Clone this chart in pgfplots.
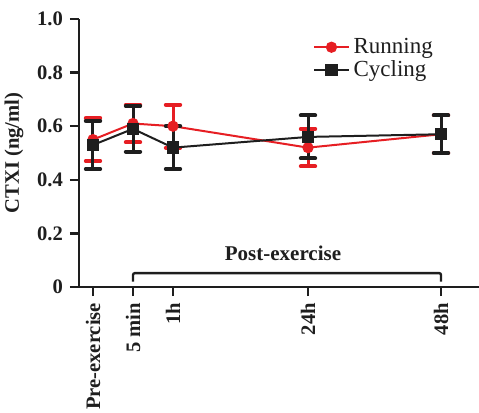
\documentclass[border=0pt]{standalone}
\usepackage{pgfplots}
\pgfplotsset{compat=1.18}
\usepackage{fontspec}
\setmainfont{Liberation Serif}
\definecolor{runred}{RGB}{230,30,35}
\definecolor{cycblk}{RGB}{30,30,30}
\begin{document}
\begin{tikzpicture}
\begin{axis}[
  name=ax,
  width=200pt, height=134pt, scale only axis,
  xmin=79, xmax=479, ymin=0, ymax=1.0,
  axis lines=left,
  axis line style={-, line width=1.2pt, cycblk},
  clip=false,
  xtick={93,133,173,308,441},
  xticklabels={Pre-exercise,5 min,1h,24h,48h},
  ytick={0,0.2,0.4,0.6,0.8,1.0},
  yticklabels={0,0.2,0.4,0.6,0.8,1.0},
  tick align=outside,
  major tick length=4.5pt,
  tick style={line width=1.2pt, cycblk},
  /pgf/number format/assume math mode=true,
  ticklabel style={font=\bfseries\fontsize{10.3}{12}\selectfont, text=cycblk},
  xticklabel style={rotate=90, anchor=east},
  ylabel={\bfseries CTXI (ng/ml)},
  ylabel style={font=\fontsize{10.3}{12}\selectfont, text=cycblk},
  legend style={draw=none, fill=none, at={(rel axis cs:0.57,0.96)}, anchor=north west,
    font=\fontsize{11.5}{12.5}\selectfont, row sep=-2pt, text=cycblk},
  legend cell align=left,
]
\addplot[runred, line width=1pt, mark=*, mark size=2.3pt,
  error bars/.cd, y dir=both, y explicit,
  error bar style={line width=1.5pt, runred},
  error mark options={rotate=90, mark size=3.6pt, line width=2pt, line cap=round, runred}]
  coordinates {
  (93,0.55) +- (0,0.08)
  (133,0.61) +- (0,0.07)
  (173,0.60) +- (0,0.08)
  (308,0.52) +- (0,0.07)
  (441,0.57) +- (0,0.07)
};
\addlegendentry{Running}
\addplot[cycblk, line width=1pt, mark=square*, mark size=2.6pt,
  error bars/.cd, y dir=both, y explicit,
  error bar style={line width=1.5pt, cycblk},
  error mark options={rotate=90, mark size=3.6pt, line width=2pt, line cap=round, cycblk}]
  coordinates {
  (93,0.53) +- (0,0.09)
  (133,0.59) +- (0,0.085)
  (173,0.52) +- (0,0.08)
  (308,0.56) +- (0,0.08)
  (441,0.57) +- (0,0.07)
};
\addlegendentry{Cycling}
\addplot[cycblk, line width=1.2pt, forget plot, rounded corners=1pt]
  coordinates {(133,0.02) (133,0.052) (441,0.052) (441,0.02)};
\node[font=\bfseries\fontsize{10.5}{12}\selectfont, text=cycblk] at (axis cs:283,0.127) {Post-exercise};
\coordinate (bl) at (rel axis cs:-0.1975,-0.470);
\coordinate (tr) at (rel axis cs:1.0,1.0709);
\end{axis}
\pgfresetboundingbox
\useasboundingbox (bl) rectangle (tr);
\end{tikzpicture}
\end{document}
